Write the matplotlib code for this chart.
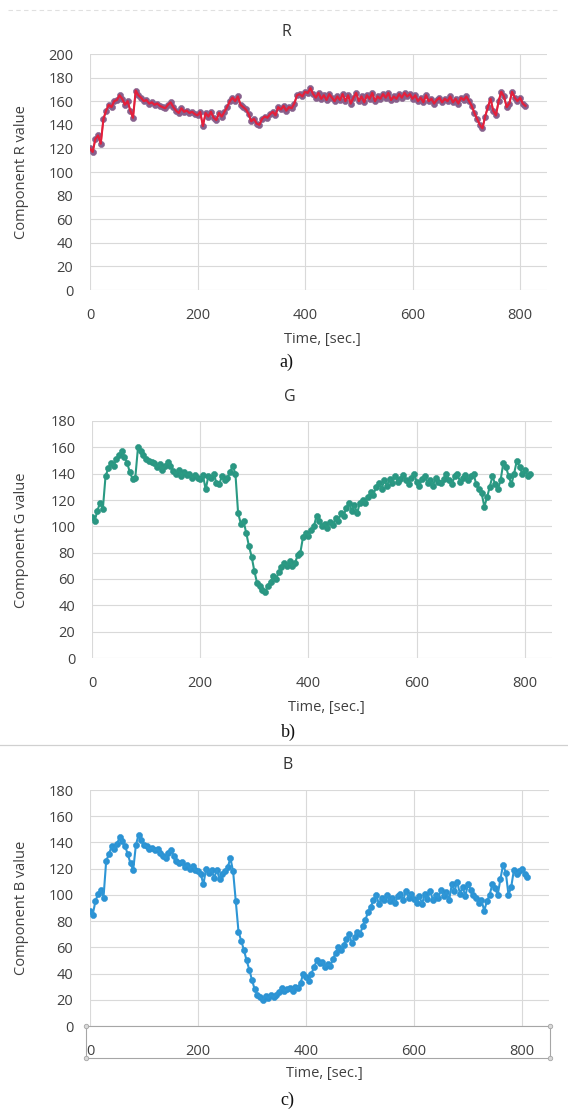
import numpy as np
import matplotlib
matplotlib.use("Agg")
import matplotlib.pyplot as plt
from matplotlib.lines import Line2D

# ── Datos: componentes RGB muestreadas cada 5 s ────────────────────────────
TIME = np.arange(0, 815, 5)

R_VALUES = [
    120, 117, 128, 131, 124, 145, 152, 157, 155, 160,
    161, 165, 162, 157, 160, 152, 146, 169, 165, 163,
    160, 161, 158, 159, 157, 158, 156, 155, 154, 157,
    159, 155, 152, 150, 154, 151, 152, 150, 151, 149,
    148, 151, 139, 150, 147, 151, 146, 144, 150, 147,
    151, 155, 160, 163, 160, 164, 157, 155, 153, 149,
    143, 145, 141, 140, 145, 147, 146, 149, 151, 148,
    155, 153, 156, 152, 155, 154, 158, 165, 166, 164,
    168, 167, 171, 166, 163, 167, 162, 165, 161, 166,
    163, 160, 164, 161, 166, 160, 165, 158, 163, 167,
    160, 164, 159, 165, 162, 167, 160, 164, 162, 166,
    163, 167, 161, 164, 162, 166, 163, 167, 164, 166,
    162, 165, 160, 163, 159, 165, 160, 162, 158, 161,
    163, 159, 162, 160, 164, 159, 162, 158, 163, 161,
    164, 160, 156, 150, 145, 140, 137, 147, 155, 162,
    152, 148, 160, 168, 164, 155, 158, 168, 163, 160,
    163, 158, 156,
]

G_VALUES = [
    107, 104, 112, 118, 113, 138, 144, 148, 146, 151,
    154, 157, 153, 148, 141, 136, 137, 160, 157, 154,
    151, 150, 149, 148, 145, 147, 143, 146, 149, 146,
    142, 140, 143, 138, 141, 139, 140, 137, 139, 137,
    136, 139, 128, 138, 137, 140, 133, 132, 138, 135,
    137, 141, 146, 140, 110, 102, 104, 95, 85, 77,
    66, 57, 55, 52, 50, 55, 58, 62, 60, 65,
    69, 72, 70, 74, 70, 72, 78, 80, 92, 95,
    93, 97, 100, 108, 104, 100, 102, 99, 103, 101,
    106, 104, 110, 108, 114, 118, 112, 116, 110, 118,
    120, 118, 122, 126, 124, 130, 133, 128, 135, 131,
    136, 133, 138, 134, 136, 139, 135, 132, 137, 140,
    134, 131, 136, 138, 133, 135, 131, 137, 134, 133,
    136, 140, 135, 132, 138, 140, 134, 137, 139, 135,
    138, 140, 132, 128, 125, 115, 122, 130, 138, 132,
    128, 135, 148, 145, 138, 132, 140, 150, 145, 140,
    143, 138, 140,
]

B_VALUES = [
    88, 85, 95, 101, 104, 98, 126, 131, 137, 135,
    139, 144, 141, 137, 131, 124, 119, 138, 146, 142,
    138, 137, 135, 136, 134, 135, 132, 130, 128, 132,
    134, 130, 126, 124, 125, 121, 123, 120, 122, 119,
    118, 116, 108, 120, 117, 119, 113, 119, 112, 116,
    118, 121, 128, 118, 95, 72, 65, 58, 50, 43,
    35, 28, 24, 22, 20, 23, 21, 24, 22, 24,
    26, 29, 27, 28, 29, 27, 30, 29, 33, 40,
    37, 34, 40, 45, 50, 48, 49, 45, 47, 46,
    51, 56, 60, 58, 62, 66, 70, 63, 68, 72,
    70, 76, 81, 87, 91, 96, 100, 93, 98, 96,
    100, 95, 98, 94, 99, 101, 96, 103, 98, 101,
    97, 94, 99, 93, 101, 97, 103, 96, 100, 98,
    104, 99, 102, 96, 108, 103, 110, 101, 106, 99,
    108, 104, 100, 98, 94, 96, 88, 95, 100, 108,
    105, 100, 112, 123, 117, 100, 106, 119, 116, 118,
    120, 116, 114,
]

X_TICKS = [0, 200, 400, 600, 800]
R_TICKS = list(range(0, 201, 20))
GB_TICKS = list(range(0, 181, 20))

# ── Estilo ─────────────────────────────────────────────────────────────────
W, H = 568, 1111
GRID = "#d9d9d9"
TEXT = "#404040"
plt.rcParams["font.family"] = ["Open Sans", "DejaVu Sans"]


def fx(x):
    return x / W


def fy(y):
    return 1 - y / H


PANELS = [
    # canal, valores, ticks y, color línea, color marcador, caja en px, textos
    dict(name="R", values=R_VALUES, yticks=R_TICKS, line="#e3203c",
         marker="#87608c", box=(90, 54, 547, 290),
         title=(286, 32), xlabel=(322, 340), tag=(286, 362), tag_text="a)",
         ylabel_y=172),
    dict(name="G", values=G_VALUES, yticks=GB_TICKS, line="#2a9a83",
         marker="#2a9582", box=(92, 421, 552, 658),
         title=(290, 397), xlabel=(326, 708), tag=(288, 732), tag_text="b)",
         ylabel_y=540),
    dict(name="B", values=B_VALUES, yticks=GB_TICKS, line="#2e96d6",
         marker="#2b92d3", box=(90, 790, 549, 1026),
         title=(288, 765), xlabel=(324, 1074), tag=(287, 1100), tag_text="c)",
         ylabel_y=908),
]

fig = plt.figure(figsize=(W / 100, H / 100), dpi=100)
fig.patch.set_facecolor("white")

for p in PANELS:
    x0, y0, x1, y1 = p["box"]
    ax = fig.add_axes([fx(x0), fy(y1), (x1 - x0) / W, (y1 - y0) / H])
    vals = np.array(p["values"], dtype=float)
    ax.plot(TIME, vals, color=p["line"], lw=1.5, zorder=3)
    ax.plot(TIME, vals, ls="none", marker="o", ms=4.4, mfc=p["marker"],
            mec=p["marker"], mew=0.4, zorder=2)
    if p["name"] == "R":
        # la línea roja queda visible por encima de los marcadores
        ax.plot(TIME, vals, color=p["line"], lw=1.2, alpha=0.8, zorder=4)

    ax.set_xlim(0, 850)
    ax.set_ylim(p["yticks"][0], p["yticks"][-1])
    ax.set_xticks(X_TICKS)
    ax.set_yticks(p["yticks"])
    ax.grid(True, color=GRID, lw=0.8)
    ax.set_axisbelow(True)
    for s in ax.spines.values():
        s.set_visible(False)
    ax.tick_params(length=0, labelsize=10.5, labelcolor=TEXT)
    ax.tick_params(axis="x", pad=13)
    ax.tick_params(axis="y", pad=12)

    fig.text(fx(p["title"][0]), fy(p["title"][1]), p["name"], ha="center",
             va="center", fontsize=11.5, color="#333333")
    fig.text(fx(p["xlabel"][0]), fy(p["xlabel"][1]), "Time, [sec.]",
             ha="center", va="center", fontsize=10.5, color=TEXT)
    fig.text(fx(22), fy(p["ylabel_y"]), f"Component {p['name']} value",
             ha="center", va="center", rotation=90, fontsize=10.5, color=TEXT)
    fig.text(fx(p["tag"][0]), fy(p["tag"][1]), p["tag_text"], ha="center",
             va="center", fontsize=13, color="#111111",
             family="Liberation Serif")

# Líneas separadoras de la página
fig.add_artist(Line2D([fx(8), fx(560)], [fy(10), fy(10)], color="#e0e0e0",
                      lw=0.8, ls=(0, (4, 3))))
fig.add_artist(Line2D([0, 1], [fy(745), fy(745)], color="#d0d0d0", lw=0.9))

# Marco de selección del eje X del tercer gráfico
bx0, by0, bx1, by1 = 86, 1026, 550, 1058
fig.add_artist(Line2D([fx(bx0), fx(bx1), fx(bx1), fx(bx0), fx(bx0)],
                      [fy(by0), fy(by0), fy(by1), fy(by1), fy(by0)],
                      color="#a6a6a6", lw=0.8))
for hx, hy in [(bx0, by0), (bx1, by0), (bx0, by1), (bx1, by1)]:
    fig.add_artist(Line2D([fx(hx)], [fy(hy)], marker="o", ms=3.2,
                          mfc="#d9d9d9", mec="#a6a6a6", mew=0.6))

fig.savefig("out.png", dpi=100, facecolor="white")
